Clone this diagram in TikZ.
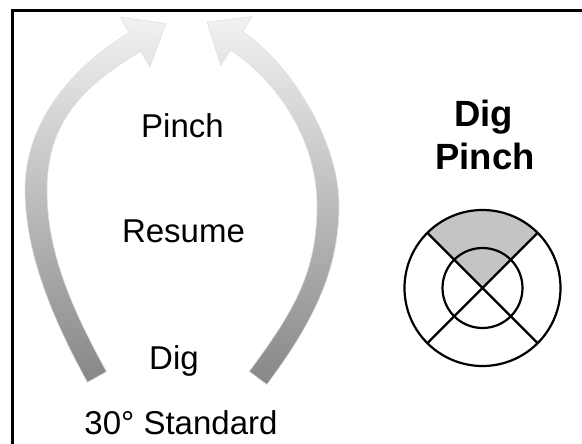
\documentclass[tikz,border=0pt]{standalone}
\usepackage{fontspec}
\setmainfont{Liberation Sans}
\usepackage{tikz}
\usetikzlibrary{calc}
\definecolor{wedgegray}{HTML}{C4C4C4}

\begin{document}
\begin{tikzpicture}[x=1pt,y=-1pt,
    swoop/.style={draw=black!12,line width=0.6pt,top color=black!5,middle color=black!33,bottom color=black!47},
    cuelabel/.style={font=\fontsize{33}{40}\selectfont,anchor=base},
    titlelabel/.style={font=\fontsize{36.5}{43}\selectfont\bfseries,anchor=base},
    target/.style={line width=2.2pt}]
  \useasboundingbox (0,0) rectangle (582,444);
  % Frame (top and left edges only)
  \draw[line width=2.8pt] (12.8,444) |- (582,10.5);
  % Left arrow (dig -> pinch)
  \path[swoop] (106.6,371.7) .. controls (69.6,304.7) and (47,250) .. (47,190)
    .. controls (47,120) and (85.7,84.4) .. (140.7,51.4)
    -- (149.9,66.9) -- (165.9,23.5) -- (120.1,17.1) -- (129.3,32.6)
    .. controls (74.3,65.6) and (25,120) .. (25,190)
    .. controls (25,250) and (50.4,315.3) .. (87.4,382.3) -- cycle;
  % Right arrow
  \path[swoop] (249.2,371.4) .. controls (296.2,308.4) and (317,270) .. (317,205)
    .. controls (317,140) and (276.7,80) .. (230.5,50.2)
    -- (220.8,65.4) -- (207.1,22.1) -- (252.2,16.6) -- (242.5,31.8)
    .. controls (288.7,61.6) and (339,140) .. (339,205)
    .. controls (339,270) and (313.8,321.6) .. (266.8,384.6) -- cycle;
  % Labels inside the arch
  \node[cuelabel] (pinch) at (182.5,138) {Pinch};
  \node[cuelabel] (resume) at (183.5,242) {Resume};
  \node[cuelabel] (dig) at (174,369) {Dig};
  \node[cuelabel] (standard) at (181,434) {30° Standard};
  % Dig pinch target
  \node[titlelabel] (digtitle) at (483.5,127) {Dig};
  \node[titlelabel] (pinchtitle) at (485,170) {Pinch};
  \coordinate (c) at (482.5,288);
  \def\ro{78}
  \def\ri{40}
  \fill[wedgegray] (c) -- ($(c)+(225:\ro)$) arc[start angle=225,end angle=315,radius=\ro] -- cycle;
  \draw[target] (c) circle[radius=\ro];
  \draw[target] (c) circle[radius=\ri];
  \foreach \a in {45,135} {
    \draw[target] ($(c)+(\a:\ro)$) -- ($(c)+(\a+180:\ro)$);
  }
\end{tikzpicture}
\end{document}
